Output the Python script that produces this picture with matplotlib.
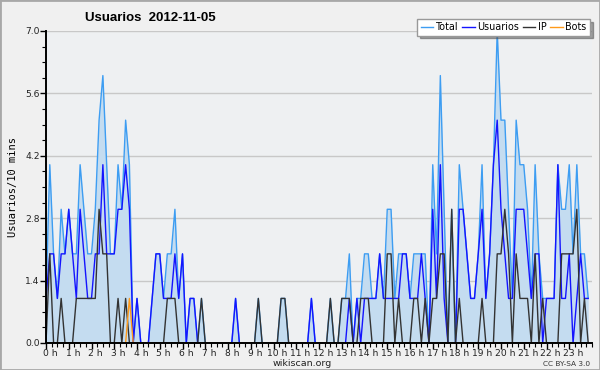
import numpy as np
import matplotlib
matplotlib.use("Agg")
import matplotlib.pyplot as plt
import matplotlib.ticker as mticker
import matplotlib.transforms as mtransforms
from matplotlib.patches import Rectangle

# values per 10 minutes, one row per hour (0 h .. 23 h)
total_by_hour = [
    [1, 4, 2, 1, 3, 2], [3, 2, 2, 4, 3, 2], [2, 3, 5, 6, 4, 2], [2, 4, 3, 5, 4, 0],
    [1, 0, 0, 0, 1, 2], [2, 1, 2, 2, 3, 1], [2, 0, 1, 1, 0, 1], [0, 0, 0, 0, 0, 0],
    [0, 0, 1, 0, 0, 0], [0, 0, 1, 0, 0, 0], [0, 0, 1, 1, 0, 0], [0, 0, 0, 0, 1, 0],
    [0, 0, 0, 1, 0, 0], [1, 1, 2, 0, 1, 1], [2, 2, 1, 1, 2, 1], [3, 3, 1, 2, 2, 2],
    [1, 2, 2, 2, 2, 0], [4, 2, 6, 3, 0, 3], [0, 4, 3, 2, 1, 1], [2, 4, 1, 2, 4, 7],
    [5, 5, 3, 1, 5, 4], [4, 3, 1, 4, 2, 1], [1, 1, 1, 4, 3, 3], [4, 2, 4, 2, 2, 1],
]
usuarios_by_hour = [
    [1, 2, 2, 1, 2, 2], [3, 2, 1, 3, 2, 1], [1, 2, 2, 4, 2, 2], [2, 3, 3, 4, 3, 0],
    [1, 0, 0, 0, 1, 2], [2, 1, 1, 1, 2, 1], [2, 0, 1, 1, 0, 0], [0, 0, 0, 0, 0, 0],
    [0, 0, 1, 0, 0, 0], [0, 0, 0, 0, 0, 0], [0, 0, 0, 0, 0, 0], [0, 0, 0, 0, 1, 0],
    [0, 0, 0, 0, 0, 0], [0, 0, 1, 0, 1, 0], [1, 1, 1, 1, 2, 1], [1, 1, 1, 1, 2, 2],
    [1, 1, 1, 2, 1, 0], [3, 1, 4, 1, 0, 0], [0, 3, 3, 2, 1, 1], [2, 3, 1, 2, 4, 5],
    [3, 2, 1, 1, 3, 3], [3, 2, 1, 2, 2, 0], [1, 1, 1, 4, 1, 1], [2, 0, 1, 2, 1, 1],
]
ip_by_hour = [
    [0, 2, 0, 0, 1, 0], [0, 0, 1, 1, 1, 1], [1, 1, 3, 2, 2, 0], [0, 1, 0, 1, 0, 0],
    [0, 0, 0, 0, 0, 0], [0, 0, 1, 1, 1, 0], [0, 0, 0, 0, 0, 1], [0, 0, 0, 0, 0, 0],
    [0, 0, 0, 0, 0, 0], [0, 0, 1, 0, 0, 0], [0, 0, 1, 1, 0, 0], [0, 0, 0, 0, 0, 0],
    [0, 0, 0, 1, 0, 0], [1, 1, 1, 0, 0, 1], [1, 1, 0, 0, 0, 0], [2, 2, 0, 1, 0, 0],
    [0, 1, 1, 0, 1, 0], [1, 1, 2, 2, 0, 3], [0, 1, 0, 0, 0, 0], [0, 1, 0, 0, 0, 2],
    [2, 3, 2, 0, 2, 1], [1, 1, 0, 2, 0, 1], [0, 0, 0, 0, 2, 2], [2, 2, 3, 0, 1, 0],
]
bots_by_hour = [[0] * 6 for _ in range(24)]
bots_by_hour[3][4] = 1  # 3h40

hour_labels = [f"{h} h" for h in range(24)]
y_ticks = [0.0, 1.4, 2.8, 4.2, 5.6, 7.0]

total = np.array(total_by_hour).ravel()
usuarios = np.array(usuarios_by_hour).ravel()
ip = np.array(ip_by_hour).ravel()
bots = np.array(bots_by_hour).ravel()
x = np.arange(len(total)) / 6.0  # hours

bg = "#f0f0f0"
fig = plt.figure(figsize=(6.0, 3.7), dpi=100, facecolor=bg)
ax = fig.add_axes([46 / 600, 1 - 343 / 370, 546 / 600, 312 / 370])
ax.set_facecolor("#eef0f2")

ax.fill_between(x, 0, total, color="#c4dcf0", lw=0)
ax.plot(x, total, color="#3d9df2", lw=1, label="Total")
ax.plot(x, usuarios, color="#1414ff", lw=1, label="Usuarios")
ax.plot(x, ip, color="#333333", lw=1, label="IP")
ax.plot(x, bots, color="#ff9a1a", lw=1, label="Bots")

ax.set_xlim(0, 24)
ax.set_ylim(0, 7.0)
ax.set_yticks(y_ticks)
ax.yaxis.set_major_formatter(mticker.FormatStrFormatter("%.1f"))
ax.yaxis.set_minor_locator(mticker.MultipleLocator(0.35))
ax.set_xticks(range(24))
ax.set_xticklabels(hour_labels)
ax.xaxis.set_minor_locator(mticker.MultipleLocator(0.25))
ax.grid(axis="y", color="#c8c8c8", lw=1)
ax.set_axisbelow(True)

for s in ["top", "right"]:
    ax.spines[s].set_visible(False)
for s in ["left", "bottom"]:
    ax.spines[s].set_color("black")
    ax.spines[s].set_linewidth(1.4)
    ax.spines[s].set_zorder(5)

ax.tick_params(axis="both", which="major", labelsize=6.6, length=4, width=1,
               color="black", labelcolor="#222222", pad=0.5)
ax.tick_params(axis="both", which="minor", length=3, width=0.8, color="black")
offset = mtransforms.ScaledTranslation(4 / 100, 0, fig.dpi_scale_trans)
for lab in ax.get_xticklabels():
    lab.set_transform(lab.get_transform() + offset)

ax.set_ylabel("Usuarios/10 mins", family="DejaVu Sans Mono", fontsize=7.5,
              labelpad=5)

fig.text(85 / 600, 1 - 18 / 370, "Usuarios  2012-11-05", fontsize=9.5,
         fontweight="bold", family="Liberation Sans", va="center", ha="left")
fig.text(302 / 600, 1 - 363.5 / 370, "wikiscan.org", fontsize=6.8, ha="center",
         va="center", color="#222222")
fig.text(590 / 600, 1 - 363.5 / 370, "CC BY-SA 3.0", fontsize=5.3, ha="right",
         va="center", color="#333333")

leg = fig.legend(loc="upper right", bbox_to_anchor=(590 / 600, 1 - 19 / 370),
                 ncol=4, fontsize=6.9, frameon=True, fancybox=False, shadow=True,
                 handlelength=1.3, handletextpad=0.3, columnspacing=0.35,
                 borderpad=0.35, borderaxespad=0)
leg.get_frame().set_edgecolor("#999999")
leg.get_frame().set_facecolor("white")
leg.get_frame().set_linewidth(1)

fig.patches.append(Rectangle((0, 0), 1, 1, transform=fig.transFigure,
                             fill=False, edgecolor="#a8a8a8", lw=2))

fig.savefig("out.png", dpi=100, facecolor=bg)
